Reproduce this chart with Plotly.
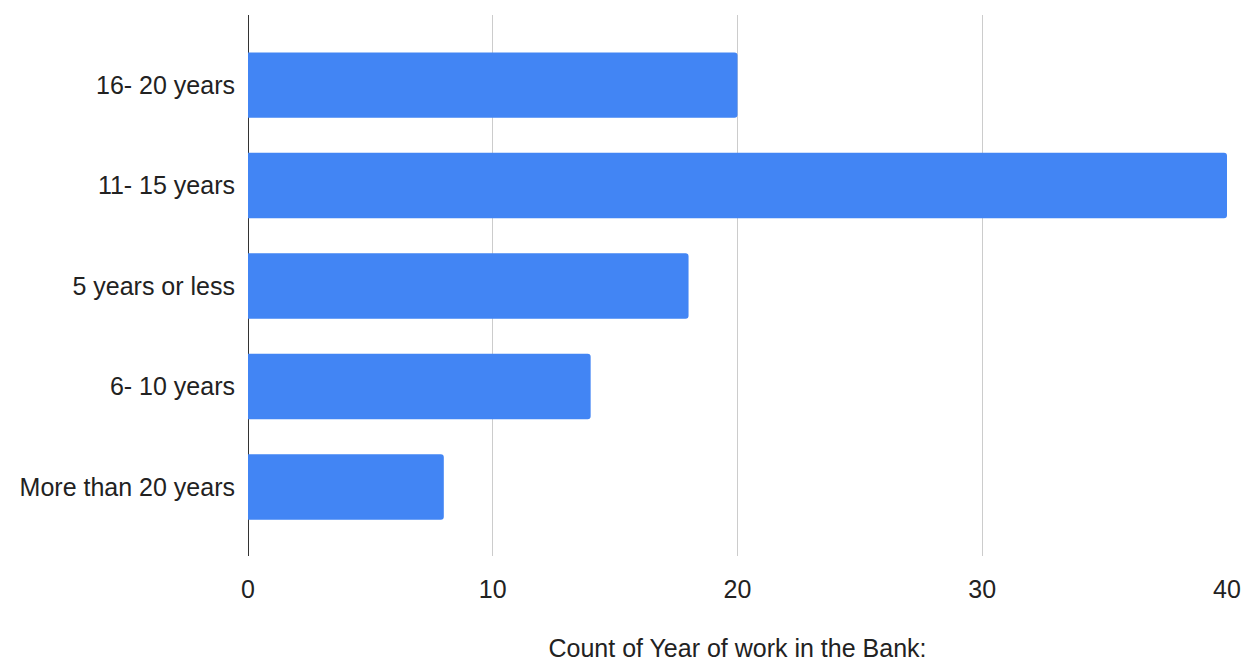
import plotly.graph_objects as go

# Years of service buckets, listed top to bottom
categories = ["16- 20 years", "11- 15 years", "5 years or less", "6- 10 years", "More than 20 years"]
counts = [20, 40, 18, 14, 8]
x_ticks = [0, 10, 20, 30, 40]

FONT = "Arial, Liberation Sans, sans-serif"
TEXT = "#222222"
SIZE = 25

fig = go.Figure(
    go.Bar(
        x=counts,
        y=categories,
        orientation="h",
        width=0.65,
        marker=dict(color="#4285F4", line=dict(width=0)),
        hoverinfo="x+y",
    )
)

fig.update_layout(
    width=1243,
    height=665,
    margin=dict(l=248, r=16, t=15, b=109, autoexpand=False),
    paper_bgcolor="white",
    plot_bgcolor="white",
    showlegend=False,
    barcornerradius=3,
    font=dict(family=FONT, size=SIZE, color=TEXT),
)

fig.update_xaxes(
    range=[0, 40],
    tickvals=x_ticks,
    ticktext=[str(v) for v in x_ticks],
    automargin=False,
    showgrid=True,
    gridcolor="#cccccc",
    gridwidth=1,
    zeroline=True,
    zerolinecolor="#333333",
    zerolinewidth=1,
    showline=False,
    ticks="outside",
    ticklen=11,
    tickcolor="rgba(0,0,0,0)",
    tickfont=dict(family=FONT, size=SIZE, color=TEXT),
    title=dict(
        text="Count of Year of work in the Bank:",
        font=dict(family=FONT, size=SIZE, color=TEXT),
        standoff=37,
    ),
)

fig.update_yaxes(
    type="category",
    categoryorder="array",
    categoryarray=categories,
    range=[4.687, -0.697],
    automargin=False,
    showgrid=False,
    zeroline=False,
    showline=False,
    ticks="outside",
    ticklen=7,
    tickcolor="rgba(0,0,0,0)",
    tickfont=dict(family=FONT, size=SIZE, color=TEXT),
)

fig.write_html("out.html")
